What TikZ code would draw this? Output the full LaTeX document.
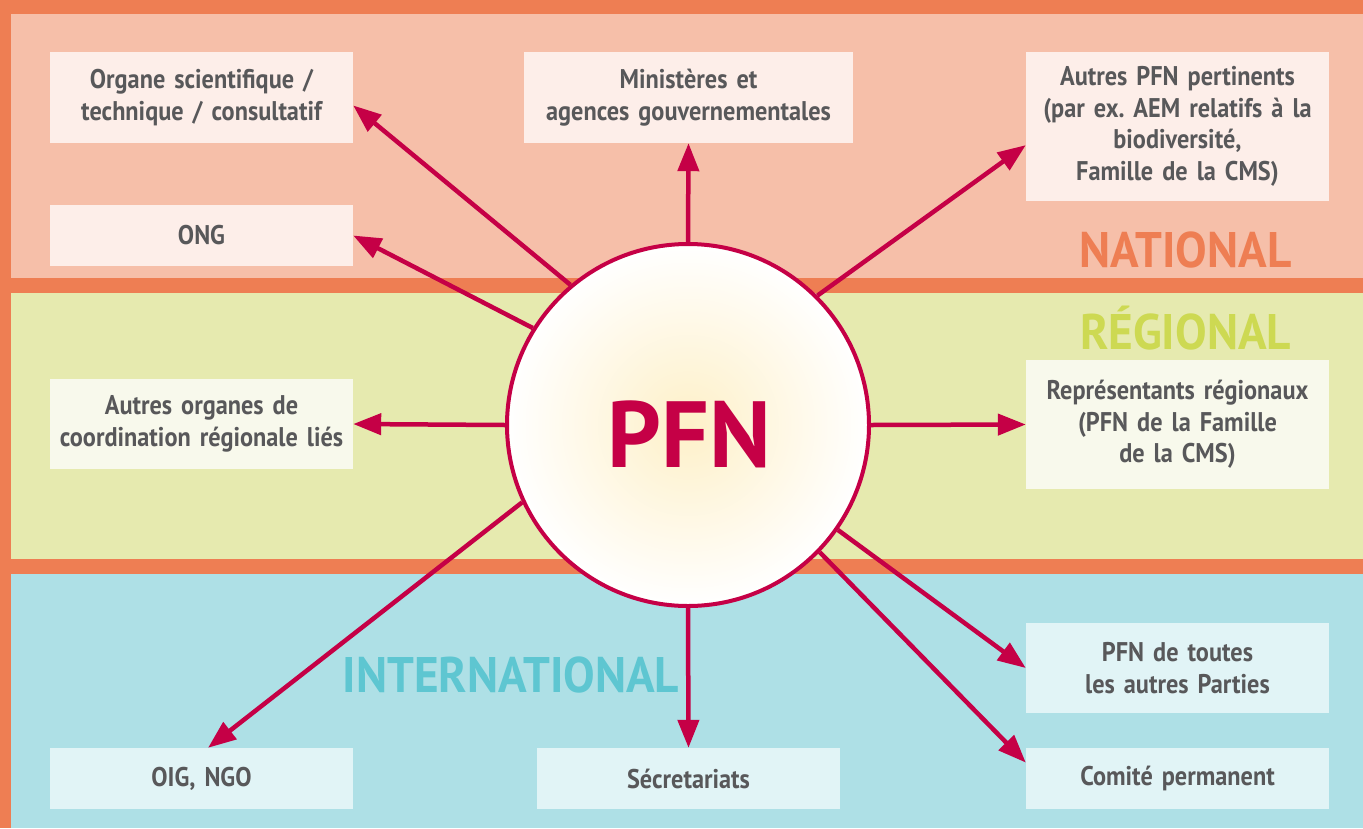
\documentclass[tikz,border=0pt]{standalone}
\usepackage{fontspec}
\setmainfont{PT Sans}
\newfontfamily\boxfont[FakeStretch=0.9]{PT Sans}
\newfontfamily\levelfont[FakeStretch=0.945]{PT Sans}
\newfontfamily\bigfont{PT Sans}
\usetikzlibrary{arrows.meta}
\frenchspacing
\definecolor{orangeb}{HTML}{EE7E53}
\definecolor{natbg}{HTML}{F6BFA9}
\definecolor{regbg}{HTML}{E6EAAF}
\definecolor{intbg}{HTML}{AEE0E6}
\definecolor{natfill}{HTML}{FDEEE9}
\definecolor{regfill}{HTML}{F8F9EC}
\definecolor{intfill}{HTML}{E1F4F6}
\definecolor{textgray}{HTML}{58585A}
\definecolor{crimson}{HTML}{C50046}
\definecolor{natlbl}{HTML}{EE7E53}
\definecolor{reglbl}{HTML}{CDD952}
\definecolor{intlbl}{HTML}{5EC6D1}
\definecolor{centerglow}{HTML}{FEF0C8}
\tikzset{
  box/.style={minimum width=303pt, inner sep=0pt, text width=300pt, align=center,
    font=\boxfont\bfseries\fontsize{27}{31.5}\selectfont, text=textgray},
  natbox/.style={box, fill=natfill},
  regbox/.style={box, fill=regfill},
  intbox/.style={box, fill=intfill},
  link/.style={draw=crimson, line width=4.5pt, -{Triangle[length=28pt,width=21pt]}},
  level/.style={font=\levelfont\bfseries\fontsize{50}{50}\selectfont, anchor=base, inner sep=0pt},
}
\begin{document}
\begin{tikzpicture}[x=1pt,y=-1pt]
\useasboundingbox (0,0) rectangle (1363,828);
% background bands
\fill[orangeb] (0,0) rectangle (1363,828);
\fill[natbg] (11,14) rectangle (1363,278);
\fill[regbg] (11,293) rectangle (1363,559);
\fill[intbg] (11,574) rectangle (1363,828);
% level labels
\node[level, text=natlbl] (natl) at (1185.5,267) {NATIONAL};
\node[level, text=reglbl] (regl) at (1185.5,349) {RÉGIONAL};
\node[level, text=intlbl] (intl) at (511,692) {INTERNATIONAL};
% boxes
\node[natbox, minimum height=91pt] (org) at (201.5,97.5) {Organe scientifique /\\technique / consultatif};
\node[natbox, minimum height=61pt] (ong) at (201.5,235.5) {ONG};
\node[natbox, minimum height=91pt, minimum width=329pt] (min) at (688.5,97.5) {Ministères et\\agences gouvernementales};
\node[natbox, minimum height=149pt] (aut) at (1177.5,126.5) {Autres PFN pertinents\\(par ex. AEM relatifs à la\\biodiversité,\\Famille de la CMS)};
\node[regbox, minimum height=90pt] (aor) at (201.5,424) {Autres organes de\\coordination régionale liés};
\node[regbox, minimum height=129pt] (rep) at (1177.5,424.5) {Représentants régionaux\\(PFN de la Famille\\de la CMS)};
\node[intbox, minimum height=61pt] (oig) at (201.5,778.5) {OIG, NGO};
\node[intbox, minimum height=61pt] (sec) at (688.5,778.5) {Sécretariats};
\node[intbox, minimum height=90pt] (pfnt) at (1177.5,668) {PFN de toutes\\les autres Parties};
\node[intbox, minimum height=61pt] (com) at (1177.5,778.5) {Comité permanent};
% centre
\node[circle, draw=crimson, line width=4pt, minimum size=362pt, inner sep=0pt,
  inner color=centerglow, outer color=white] (pfn) at (688,425) {};
\node[font=\bigfont\bfseries\fontsize{94}{94}\selectfont, text=crimson, inner sep=0pt] (pfnlabel) at (689.5,434.5) {PFN};
% connectors
\draw[link] (pfn.130) -- (org.-3.6);
\draw[link] (pfn.148) -- (ong.east);
\draw[link] (pfn.90) -- (min.south);
\draw[link] (pfn.45) -- (aut.187.3);
\draw[link] (pfn.180) -- (aor.east);
\draw[link] (pfn.0) -- (rep.west);
\draw[link] (pfn.205) -- (oig.78);
\draw[link] (pfn.270) -- (sec.north);
\draw[link] (pfn.-35) -- (pfnt.180.7);
\draw[link] (pfn.-44) -- (com.174.2);
\end{tikzpicture}
\end{document}
